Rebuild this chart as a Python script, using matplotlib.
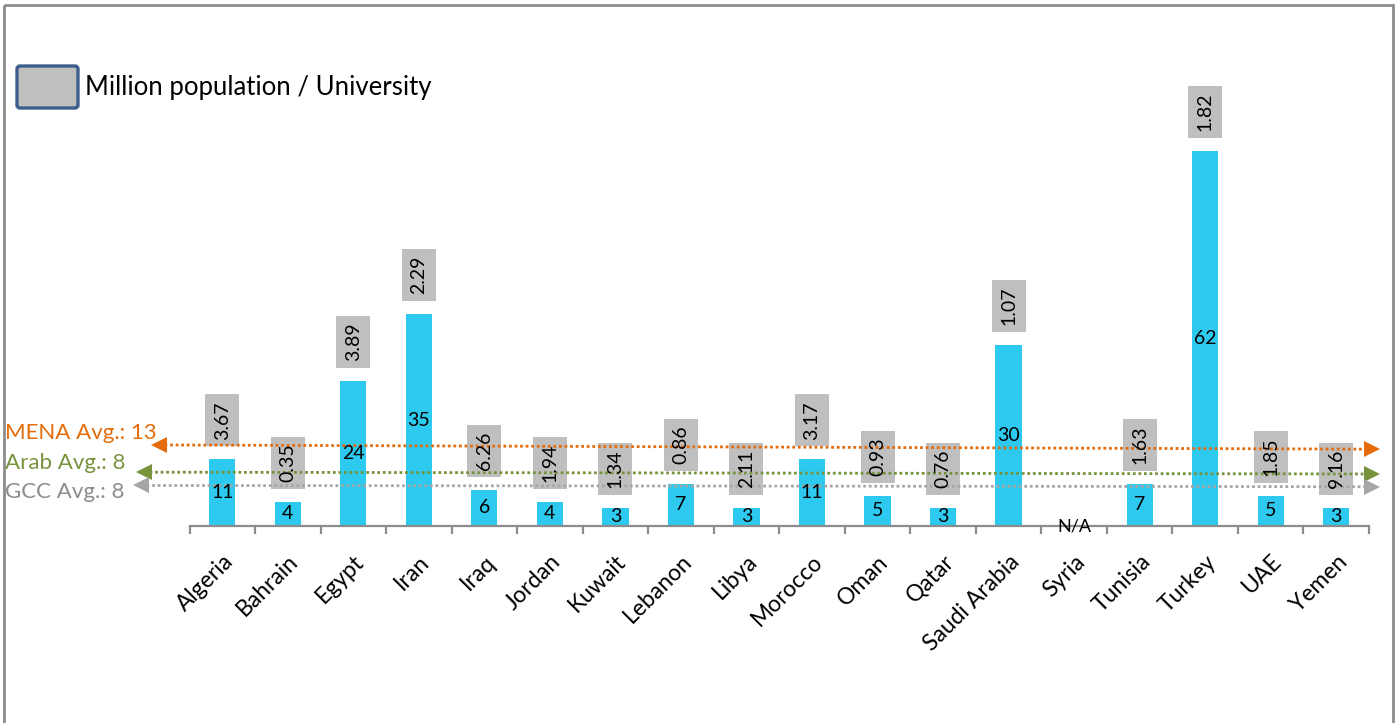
import matplotlib
matplotlib.use('Agg')
import matplotlib.pyplot as plt
from matplotlib.patches import Rectangle, FancyBboxPatch
import numpy as np

# ---------------- data ----------------
countries = ["Algeria", "Bahrain", "Egypt", "Iran", "Iraq", "Jordan", "Kuwait",
             "Lebanon", "Libya", "Morocco", "Oman", "Qatar", "Saudi Arabia",
             "Syria", "Tunisia", "Turkey", "UAE", "Yemen"]
universities = [11, 4, 24, 35, 6, 4, 3, 7, 3, 11, 5, 3, 30, np.nan, 7, 62, 5, 3]
pop_per_uni = ["3.67", "0.35", "3.89", "2.29", "6.26", "1.94", "1.34", "0.86",
               "2.11", "3.17", "0.93", "0.76", "1.07", None, "1.63", "1.82",
               "1.85", "9.16"]
avg_names = ["MENA Avg.", "Arab Avg.", "GCC Avg."]
avg_values = [13, 8, 8]
legend_label = "Million population / University"
na_label = "N/A"

# ---------------- style ----------------
W, H = 1396, 723
FONT = ["Lato", "DejaVu Sans"]
plt.rcParams['font.family'] = FONT
BAR_C = "#2EC9EE"
BOX_C = "#BFBFBF"
avg_colors = ["#E46C0A", "#77933C", "#A6A6A6"]
avg_text_colors = ["#E46C0A", "#77933C", "#8C8C8C"]
# drawn line heights (left, right) in data units – lines are visually offset
avg_line_pos = [(13.4, 12.7), (8.9, 8.6), (6.7, 6.5)]
avg_text_y = [433, 463, 492]
avg_left_tip = [152, 137, 134]

fig = plt.figure(figsize=(W / 100, H / 100), dpi=100)

# overlay for figure-level decorations (pixel coordinates)
ov = fig.add_axes([0, 0, 1, 1], zorder=0)
ov.set_xlim(0, W)
ov.set_ylim(H, 0)
ov.axis('off')
ov.add_patch(Rectangle((4, 5), 1389, 760, fill=False, edgecolor="#8C8C8C",
                       linewidth=2.0, clip_on=False))
ov.add_patch(FancyBboxPatch((17, 66), 61, 42, boxstyle="round,pad=0,rounding_size=3",
                            facecolor=BOX_C, edgecolor="#3C5F8E", linewidth=2.4))
ov.text(85, 88, legend_label, fontsize=18.5, va='center', ha='left', color="black")

ax_l, ax_r, ax_b, ax_t = 189.5, 1369, 526, 40
ax = fig.add_axes([ax_l / W, (H - ax_b) / H, (ax_r - ax_l) / W, (ax_b - ax_t) / H], zorder=1)
ax.patch.set_alpha(0)
px_per_unit = 375 / 62
ax.set_ylim(0, (ax_b - ax_t) / px_per_unit)
ax.set_xlim(-0.5, len(countries) - 0.5)
px_per_cat = (ax_r - ax_l) / len(countries)

x = np.arange(len(countries))
vals = np.array(universities, dtype=float)
ax.bar(x, np.nan_to_num(vals), width=0.4, color=BAR_C, zorder=2)

box_w = 34 / px_per_cat
box_h = 52 / px_per_unit
box_gap = 13 / px_per_unit
for i, (v, lab) in enumerate(zip(vals, pop_per_uni)):
    if np.isnan(v):
        ax.text(i, 0, na_label, ha='center', va='center', fontsize=13, color='black', zorder=5)
        continue
    ax.text(i, v / 2, f"{int(v)}", ha='center', va='center', fontsize=14, color='black', zorder=4)
    b = v + box_gap
    ax.add_patch(Rectangle((i - box_w / 2, b), box_w, box_h, facecolor=BOX_C,
                           edgecolor='none', zorder=3))
    ax.text(i, b + box_h / 2, lab, rotation=90, ha='center', va='center',
            fontsize=14, color='black', zorder=4)

# average lines with arrowheads
def px2x(px):
    return (px - ax_l) / px_per_cat - 0.5

for k in range(3):
    yl, yr = avg_line_pos[k]
    xl = px2x(avg_left_tip[k] + 7)
    xr = px2x(1372)
    ax.plot([xl, xr], [yl, yr], linestyle=(0, (1, 1)), linewidth=2.0,
            color=avg_colors[k], clip_on=False, zorder=3)
    ax.plot([xl], [yl], marker='<', markersize=11, color=avg_colors[k],
            markeredgewidth=0, clip_on=False, zorder=3)
    ax.plot([xr], [yr], marker='>', markersize=11, color=avg_colors[k],
            markeredgewidth=0, clip_on=False, zorder=3)
    ov.text(5, avg_text_y[k], f"{avg_names[k]}: {avg_values[k]}", fontsize=16,
            color=avg_text_colors[k], ha='left', va='center')

# axes styling
for s in ['top', 'right', 'left']:
    ax.spines[s].set_visible(False)
ax.spines['bottom'].set_color("#8C8C8C")
ax.spines['bottom'].set_linewidth(1.6)
ax.set_yticks([])
ax.set_xticks(x)
ax.set_xticklabels(countries, rotation=45, ha='right', va='top',
                   rotation_mode='anchor', fontsize=16.5)
ax.tick_params(axis='x', which='major', length=0, pad=18)
ax.set_xticks(np.arange(-0.5, len(countries)), minor=True)
ax.tick_params(axis='x', which='minor', length=6, width=1.6, color="#8C8C8C")

fig.savefig("out.png", dpi=100)
